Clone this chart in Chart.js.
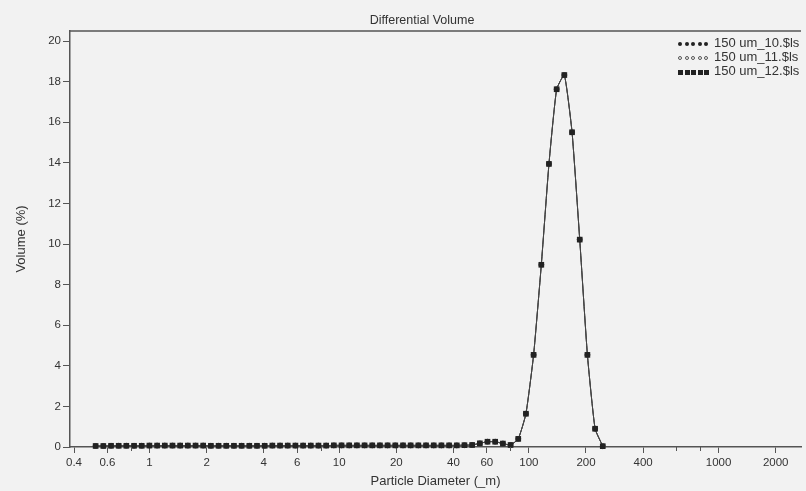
<!DOCTYPE html>
<html>
<head>
<meta charset="utf-8">
<script src="https://cdn.jsdelivr.net/npm/chart.js@4.4.1/dist/chart.umd.min.js"></script>
<style>
  html, body { margin: 0; padding: 0; background: #f2f2f2; }
  .wrap { position: relative; width: 806px; height: 491px; overflow: hidden; }
  .title {
    position: absolute; left: 322px; top: 13px; width: 200px;
    text-align: center; font: 12.5px 'Liberation Sans', Arial, sans-serif; color: #333;
  }
  .legend {
    position: absolute; left: 678px; top: 36px;
    font: 13px 'Liberation Sans', Arial, sans-serif; color: #333;
  }
  .legend .row { height: 14px; line-height: 14px; white-space: nowrap; }
  .legend .marks { display: inline-block; width: 36px; vertical-align: middle; }
  .legend .mk { display: inline-block; width: 4px; height: 4px; margin-right: 2.5px; vertical-align: middle; box-sizing: border-box; }
  .legend .dot { background: #222; border-radius: 50%; }
  .legend .ring { border: 1px solid #555; border-radius: 50%; }
  .legend .sq { background: #222; width: 5px; height: 5px; margin-right: 1.5px; }
</style>
</head>
<body>
<div class="wrap">
  <canvas id="psd" width="806" height="491"></canvas>
  <div class="title">Differential Volume</div>
  <div class="legend" id="legend"></div>
</div>
<script>
// channel centres (um)
const diameters = [
  0.520, 0.571, 0.627, 0.688, 0.755, 0.829, 0.910, 0.999, 1.097, 1.204,
  1.322, 1.451, 1.593, 1.749, 1.919, 2.107, 2.313, 2.539, 2.787, 3.060,
  3.359, 3.687, 4.048, 4.444, 4.878, 5.355, 5.879, 6.453, 7.084, 7.777,
  8.537, 9.371, 10.29, 11.29, 12.40, 13.61, 14.94, 16.40, 18.00, 19.76,
  21.70, 23.81, 26.14, 28.70, 31.51, 34.59, 37.97, 41.68, 45.75, 50.23,
  55.14, 60.52, 66.44, 72.94, 80.07, 87.90, 96.49, 105.9, 116.3, 127.6,
  140.1, 153.8, 168.9, 185.4, 203.5, 223.4, 245.2,
];

// the three runs sit on top of each other, only the squares show
const volume10 = [
  0.05, 0.05, 0.06, 0.06, 0.06, 0.06, 0.06, 0.07, 0.07, 0.07,
  0.07, 0.07, 0.07, 0.07, 0.07, 0.06, 0.06, 0.06, 0.06, 0.06,
  0.06, 0.06, 0.06, 0.07, 0.07, 0.07, 0.07, 0.07, 0.07, 0.07,
  0.07, 0.08, 0.08, 0.08, 0.08, 0.08, 0.08, 0.08, 0.08, 0.08,
  0.08, 0.08, 0.08, 0.08, 0.08, 0.08, 0.08, 0.08, 0.09, 0.10,
  0.18, 0.26, 0.26, 0.17, 0.10, 0.40, 1.64, 4.54, 8.98, 13.95,
  17.63, 18.33, 15.51, 10.22, 4.54, 0.90, 0.04,
];
const volume11 = [
  0.05, 0.05, 0.06, 0.06, 0.06, 0.06, 0.06, 0.07, 0.07, 0.07,
  0.07, 0.07, 0.07, 0.07, 0.07, 0.06, 0.06, 0.06, 0.06, 0.06,
  0.06, 0.06, 0.06, 0.07, 0.07, 0.07, 0.07, 0.07, 0.07, 0.07,
  0.07, 0.08, 0.08, 0.08, 0.08, 0.08, 0.08, 0.08, 0.08, 0.08,
  0.08, 0.08, 0.08, 0.08, 0.08, 0.08, 0.08, 0.08, 0.09, 0.10,
  0.18, 0.26, 0.26, 0.17, 0.10, 0.40, 1.64, 4.54, 8.98, 13.95,
  17.63, 18.33, 15.51, 10.22, 4.54, 0.90, 0.04,
];
const volume12 = [
  0.05, 0.05, 0.06, 0.06, 0.06, 0.06, 0.06, 0.07, 0.07, 0.07,
  0.07, 0.07, 0.07, 0.07, 0.07, 0.06, 0.06, 0.06, 0.06, 0.06,
  0.06, 0.06, 0.06, 0.07, 0.07, 0.07, 0.07, 0.07, 0.07, 0.07,
  0.07, 0.08, 0.08, 0.08, 0.08, 0.08, 0.08, 0.08, 0.08, 0.08,
  0.08, 0.08, 0.08, 0.08, 0.08, 0.08, 0.08, 0.08, 0.09, 0.10,
  0.18, 0.26, 0.26, 0.17, 0.10, 0.40, 1.64, 4.54, 8.98, 13.95,
  17.63, 18.33, 15.51, 10.22, 4.54, 0.90, 0.04,
];

const seriesNames = ['150 um_10.$ls', '150 um_11.$ls', '150 um_12.$ls'];

const xTicks = [0.4, 0.6, 0.8, 1, 2, 4, 6, 8, 10, 20, 40, 60, 80, 100, 200, 400, 600, 800, 1000, 2000];
const xUnlabelled = [0.8, 8, 80, 600, 800];
const yTicks = [0, 2, 4, 6, 8, 10, 12, 14, 16, 18, 20];

const ink = '#333';
const bg = '#f2f2f2';
const font = "'Liberation Sans', Arial, sans-serif";

function pts(ys) {
  return diameters.map((d, i) => ({ x: d, y: ys[i] }));
}

//] legend
const markClass = ['dot', 'ring', 'sq'];
const legend = document.getElementById('legend');
seriesNames.forEach((name, i) => {
  const row = document.createElement('div');
  row.className = 'row';
  let marks = '<span class="marks">';
  for (let k = 0; k < 5; k++) marks += `<span class="mk ${markClass[i]}"></span>`;
  marks += '</span>';
  row.innerHTML = marks + '<span></span>';
  row.lastChild.textContent = name;
  legend.appendChild(row);
});

// top edge of the frame + short unlabelled ticks on the x axis
const frame = {
  id: 'frame',
  afterDraw(chart) {
    const { ctx, chartArea } = chart;
    const x = chart.scales.x;
    ctx.save();
    ctx.strokeStyle = '#555';
    ctx.lineWidth = 1.5;
    ctx.beginPath();
    ctx.moveTo(chartArea.left, chartArea.top);
    ctx.lineTo(chartArea.right, chartArea.top);
    ctx.stroke();
    ctx.lineWidth = 1;
    ctx.beginPath();
    xUnlabelled.forEach((v) => {
      const px = Math.round(x.getPixelForValue(v)) + 0.5;
      ctx.moveTo(px, chartArea.bottom);
      ctx.lineTo(px, chartArea.bottom + 4);
    });
    ctx.stroke();
    ctx.restore();
  },
};

const common = {
  borderColor: '#444',
  borderWidth: 1,
  tension: 0.15,
  clip: false,
};

new Chart(document.getElementById('psd'), {
  type: 'line',
  data: {
    datasets: [
      {
        ...common,
        label: seriesNames[0],
        data: pts(volume10),
        pointStyle: 'circle',
        pointRadius: 2,
        pointBackgroundColor: '#222',
        pointBorderWidth: 0,
        order: 3,
      },
      {
        ...common,
        label: seriesNames[1],
        data: pts(volume11),
        pointStyle: 'circle',
        pointRadius: 2.5,
        pointBackgroundColor: bg,
        pointBorderColor: '#444',
        pointBorderWidth: 1,
        order: 2,
      },
      {
        ...common,
        label: seriesNames[2],
        data: pts(volume12),
        pointStyle: 'rect',
        pointRadius: 4,
        pointBackgroundColor: '#222',
        pointBorderWidth: 0,
        order: 1,
      },
    ],
  },
  options: {
    responsive: false,
    animation: false,
    events: [],
    layout: { padding: { top: 31, right: 0, left: 0, bottom: 0 } },
    plugins: { legend: { display: false }, tooltip: { enabled: false } },
    scales: {
      x: {
        type: 'logarithmic',
        min: 0.381,
        max: 2720,
        afterBuildTicks: (s) => { s.ticks = xTicks.map((v) => ({ value: v })); },
        afterFit: (s) => { s.height = 44; },
        ticks: {
          autoSkip: false,
          maxRotation: 0,
          padding: 3,
          color: ink,
          font: { family: font, size: 11.5 },
          callback: (v) => (xUnlabelled.includes(v) ? '' : String(v)),
        },
        grid: {
          drawOnChartArea: false,
          tickLength: 6,
          tickWidth: 1,
          tickColor: (c) => (c.tick && xUnlabelled.includes(c.tick.value) ? 'rgba(0,0,0,0)' : '#555'),
        },
        border: { color: '#555', width: 1.5 },
        title: {
          display: true,
          text: 'Particle Diameter (_m)',
          color: ink,
          font: { family: font, size: 13 },
          padding: { top: 0, bottom: 2 },
        },
      },
      y: {
        min: 0,
        max: 20.5,
        afterBuildTicks: (s) => { s.ticks = yTicks.map((v) => ({ value: v })); },
        afterFit: (s) => { s.width = 70; },
        ticks: {
          padding: 2,
          color: ink,
          font: { family: font, size: 11.5 },
        },
        grid: { drawOnChartArea: false, tickLength: 7, tickColor: '#555', tickWidth: 1 },
        border: { color: '#555', width: 1.5 },
        title: {
          display: true,
          text: 'Volume (%)',
          color: ink,
          font: { family: font, size: 13 },
          padding: { top: 14, bottom: 0 },
        },
      },
    },
  },
  plugins: [frame],
});
</script>
</body>
</html>
